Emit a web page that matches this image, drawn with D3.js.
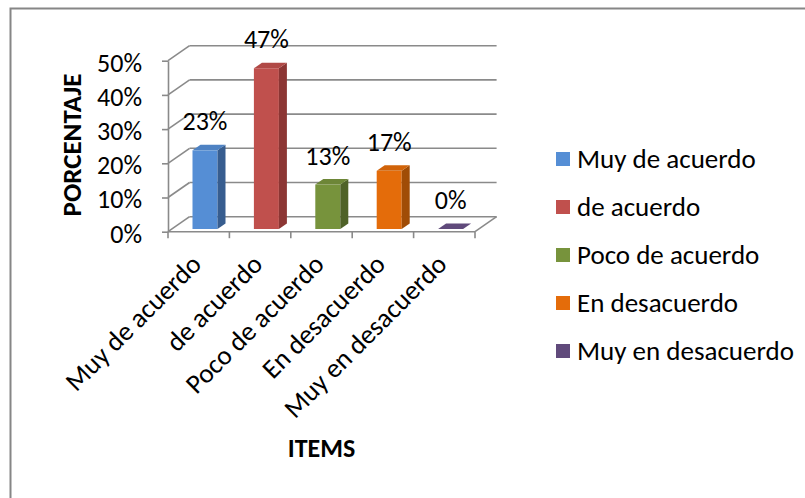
<!DOCTYPE html>
<meta charset="utf-8">
<style>
  body {
    margin: 0;
    background: #fff;
    font-family: Carlito, Lato, sans-serif;
  }

  .grid line,
  .axis path,
  .axis line {
    fill: none;
    stroke: #8a8a8a;
    stroke-width: 1.6;
  }

  .axis text {
    font-family: Carlito, Lato, sans-serif;
    font-size: 26px;
    fill: #000;
  }

  .axisLabel {
    font-weight: bold;
  }
</style>

<body>
  <div id="my_dataviz"></div>
  <script src="https://d3js.org/d3.v7.min.js"></script>

  <script>
    // data
    var categories = ["Muy de acuerdo", "de acuerdo", "Poco de acuerdo", "En desacuerdo", "Muy en desacuerdo"];
    var values = [0.23, 0.47, 0.13, 0.17, 0];
    var yTicks = [0, 0.1, 0.2, 0.3, 0.4, 0.5];
    var frontColors = ["#558ed5", "#c0504d", "#77933c", "#e46c0a", "#604a7b"];
    var sideColors = ["#375d8f", "#8c3634", "#4f6228", "#a04c06", "#403152"];

    var W = 805, H = 498;

    // fake 3d: depth of the back wall and of the bars
    var depthX = 21.6, depthY = 15;
    var barDX = 8, barDY = 5.5;
    var barShiftY = 2.7, barOffset = 24.5, barW = 25;

    var svg = d3.select("#my_dataviz")
      .append("svg")
      .attr("width", W)
      .attr("height", H);

    // outer frame
    svg.append("rect")
      .attr("x", 10.5)
      .attr("y", 8.5)
      .attr("width", W)
      .attr("height", H)
      .style("fill", "none")
      .style("stroke", "#868686")
      .style("stroke-width", 2);

    var x = d3.scaleBand()
      .domain(categories)
      .range([168, 475]);

    var y = d3.scaleLinear()
      .domain([0, 0.5])
      .range([231.7, 60.7]);

    var x0 = x.range()[0], x1 = x.range()[1];

    // back wall gridlines + side wall diagonals
    var grid = svg.append("g").attr("class", "grid");
    grid.selectAll(".back")
      .data(yTicks)
      .enter()
      .append("line")
      .attr("x1", x0 + depthX)
      .attr("x2", x1 + depthX)
      .attr("y1", function(d) { return y(d) - depthY; })
      .attr("y2", function(d) { return y(d) - depthY; });
    grid.selectAll(".side")
      .data(yTicks)
      .enter()
      .append("line")
      .attr("x1", x0)
      .attr("x2", x0 + depthX)
      .attr("y1", function(d) { return y(d); })
      .attr("y2", function(d) { return y(d) - depthY; });
    // floor right edge and front edge
    grid.append("line")
      .attr("x1", x1).attr("y1", y(0))
      .attr("x2", x1 + depthX).attr("y2", y(0) - depthY);
    grid.append("line")
      .attr("x1", x0).attr("y1", y(0))
      .attr("x2", x1).attr("y2", y(0));

    // category ticks on the band edges
    var edges = categories.map(function(c) { return x(c); }).concat([x1]);
    grid.selectAll(".xtick")
      .data(edges)
      .enter()
      .append("line")
      .attr("x1", function(d) { return d; })
      .attr("x2", function(d) { return d; })
      .attr("y1", y(0))
      .attr("y2", y(0) + 6.5);

    // y axis
    svg.append("g")
      .attr("class", "axis")
      .attr("transform", "translate(" + x0 + ",0)")
      .call(d3.axisLeft(y)
        .tickValues(yTicks)
        .tickFormat(d3.format(".0%"))
        .tickSize(6)
        .tickSizeOuter(0)
        .tickPadding(20))
      .selectAll("text")
      .attr("dy", "0.4em");

    // bars
    var data = categories.map(function(c, i) {
      return { cat: c, value: values[i], front: frontColors[i], side: sideColors[i] };
    });

    var bars = svg.selectAll(".bar")
      .data(data)
      .enter()
      .append("g")
      .attr("class", "bar");

    function fx(d) { return x(d.cat) + barOffset; }
    function fyTop(d) { return y(d.value) - barShiftY; }
    var fyBase = y(0) - barShiftY;

    bars.filter(function(d) { return d.value > 0; })
      .append("rect")
      .attr("x", fx)
      .attr("y", fyTop)
      .attr("width", barW)
      .attr("height", function(d) { return fyBase - fyTop(d); })
      .style("fill", function(d) { return d.front; });

    bars.filter(function(d) { return d.value > 0; })
      .append("polygon")
      .attr("points", function(d) {
        var a = fx(d) + barW, t = fyTop(d);
        return [[a, t], [a + barDX, t - barDY], [a + barDX, fyBase - barDY], [a, fyBase]].join(" ");
      })
      .style("fill", function(d) { return d.side; });

    bars.append("polygon")
      .attr("points", function(d) {
        var a = fx(d), t = fyTop(d);
        return [[a, t], [a + barDX, t - barDY], [a + barW + barDX, t - barDY], [a + barW, t]].join(" ");
      })
      .style("fill", function(d) {
        return d.value > 0 ? d3.color(d.front).darker(0.25) : d.front;
      });

    // value labels
    svg.selectAll(".valueLabel")
      .data(data)
      .enter()
      .append("text")
      .attr("x", function(d) { return fx(d) + barW / 2; })
      .attr("y", function(d) { return fyTop(d) - 20; })
      .attr("text-anchor", "middle")
      .style("font-size", "26px")
      .text(function(d) { return d3.format(".0%")(d.value); });

    // rotated category labels
    svg.selectAll(".catLabel")
      .data(categories)
      .enter()
      .append("text")
      .attr("transform", function(d) {
        return "translate(" + (x(d) + x.bandwidth() / 2 + 4) + ",266) rotate(-45)";
      })
      .attr("text-anchor", "end")
      .style("font-size", "27px")
      .text(function(d) { return d; });

    // axis titles
    svg.append("text")
      .attr("class", "axisLabel")
      .attr("transform", "translate(81,145) rotate(-90)")
      .attr("text-anchor", "middle")
      .style("font-size", "27px")
      .text("PORCENTAJE");

    svg.append("text")
      .attr("class", "axisLabel")
      .attr("x", 321.5)
      .attr("y", 457)
      .attr("text-anchor", "middle")
      .style("font-size", "26px")
      .text("ITEMS");

    // legend
    var legend = svg.selectAll(".legend")
      .data(data)
      .enter()
      .append("g")
      .attr("transform", function(d, i) { return "translate(556," + (159 + i * 48) + ")"; });
    legend.append("rect")
      .attr("x", 0)
      .attr("y", -7)
      .attr("width", 14)
      .attr("height", 14)
      .style("fill", function(d) { return d.front; });
    legend.append("text")
      .attr("x", 21)
      .attr("y", 9)
      .style("font-size", "27px")
      .text(function(d) { return d.cat; });
  </script>
</body>
